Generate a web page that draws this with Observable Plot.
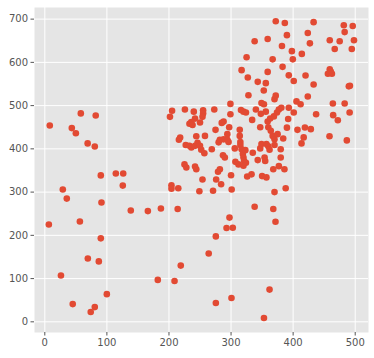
<!DOCTYPE html>
<html>
<head>
<meta charset="utf-8">
<script src="https://cdn.jsdelivr.net/npm/d3@7"></script>
<script src="https://cdn.jsdelivr.net/npm/@observablehq/plot@0.6"></script>
<style>
  html, body { margin: 0; padding: 0; background: #ffffff; }
  #chart svg { display: block; }
</style>
</head>
<body>
<div id="chart"></div>
<script>
const xTicks = [0, 100, 200, 300, 400, 500];
const yTicks = [0, 100, 200, 300, 400, 500, 600, 700];

const xs = [
  8, 6.5, 26, 29, 35.4, 43.5, 50, 45, 56.5, 58, 69, 69.3, 74, 80.5, 82, 80.5, 87, 90.2, 90.2, 91.3,
  99.9, 114.4, 126.3, 125.6, 138.5, 166, 182, 187,
  209, 219, 264, 275.5, 292.7, 302.8, 297.5, 275.5, 300.7, 362, 353, 371.6,
  299, 328, 370, 372, 349, 353, 205, 201.6, 225.7, 240, 242, 236, 233, 238, 250, 255, 255, 254, 273, 299,
  288, 285, 297, 275, 316, 320, 324, 340, 348, 356, 334, 314, 314, 315, 347, 359, 363, 369, 374, 377,
  381, 393, 392, 407, 390, 360, 364, 367, 370, 375, 384, 401, 405.4,
  218, 216, 227, 233, 236, 242, 244, 246, 250, 252, 258, 257, 269, 280, 282, 288, 294, 294, 296, 287,
  290, 306, 307, 312, 315, 317, 319, 320, 321, 323, 324, 320, 335, 347, 349, 357, 360, 362, 354, 355,
  343, 370, 380, 380, 377, 368, 386, 225, 228, 242, 244, 282, 279, 254, 276, 284, 300, 326, 333, 350,
  357, 204, 204, 215, 249, 271, 301, 370, 388, 338, 368, 214,
  437, 464.5, 491, 472, 458.6, 486.5, 419, 428.5, 417, 413.5, 412, 464, 483,
  372, 386.6, 433, 481.6, 496, 483, 423.6, 390, 338, 359, 427, 459, 475, 498, 382, 467, 494.5, 398, 414, 367,
  399.5, 383, 359, 459, 460.6, 456, 462.5, 420, 393, 401, 343, 356, 433, 489.7, 491.5, 352.7, 423.6, 325, 317, 327
];
const ys = [
  454, 225, 107, 306, 285, 448, 436, 41, 232, 482, 412.6, 146.6, 22.6, 405.6, 477, 34, 139.7, 338.6, 193, 276,
  64, 343, 343, 315, 257.6, 256, 97, 262,
  94.5, 130, 158, 197.5, 216.8, 217.7, 241, 43.6, 55, 74.5, 9, 231.5,
  504, 524, 515, 523, 506, 503, 488, 474, 491, 486, 470, 462, 458, 455, 461, 489, 482, 474, 491, 480,
  463, 460, 450, 444, 490, 486, 484, 491, 481, 486, 467, 444, 430, 416, 450, 463, 470, 475, 484, 491,
  495, 495, 469, 444, 449, 450, 442, 430, 422, 434, 424, 484, 509.7,
  426, 421, 409, 407, 403, 407, 429, 414, 407, 398, 430, 390, 399, 415, 421, 422, 434, 421, 416, 385,
  380, 401, 370, 364, 409, 399, 388, 380, 372, 397, 368, 361, 391, 401, 411, 411, 406, 398, 380, 372,
  374, 409, 399, 380, 360, 353, 353, 364, 357, 359, 353, 353, 347, 329, 329, 318, 339, 336, 341, 337,
  334, 316, 308, 309, 302, 303, 306, 300, 309, 266, 261, 261,
  480, 478, 484, 466, 429, 419.5, 449.5, 445.6, 426.5, 412.6, 503, 505, 505,
  695, 691, 693, 686, 684, 670, 668, 663, 649, 654, 644, 651, 649, 651, 638, 631, 631, 626, 619.6, 607,
  607, 589.6, 578, 584, 579, 573.6, 573.6, 569.8, 570, 557, 555, 552, 549, 544.6, 546, 535, 521, 612, 582, 565
];

const points = xs.map((x, i) => ({x, y: ys[i]}));

const chart = Plot.plot({
  width: 374,
  height: 358,
  marginLeft: 34,
  marginRight: 6,
  marginTop: 7,
  marginBottom: 26,
  style: {
    fontFamily: "'DejaVu Sans', sans-serif",
    fontSize: "10px",
    background: "#ffffff",
    color: "#555555"
  },
  x: { domain: [-16.6, 521.4] },
  y: { domain: [-24.7, 726.9] },
  marks: [
    Plot.frame({ fill: "#E5E5E5", stroke: null }),
    Plot.gridX(xTicks, { stroke: "#ffffff", strokeOpacity: 1, strokeWidth: 1 }),
    Plot.gridY(yTicks, { stroke: "#ffffff", strokeOpacity: 1, strokeWidth: 1 }),
    Plot.axisX(xTicks, { tickSize: 3.5, tickPadding: 3, stroke: "#555555", fill: "#555555", label: null }),
    Plot.axisY(yTicks, { tickSize: 3.5, tickPadding: 3, stroke: "#555555", fill: "#555555", label: null }),
    Plot.dot(points, { x: "x", y: "y", r: 3.3, fill: "#E24A33", stroke: null })
  ]
});

document.getElementById("chart").appendChild(chart);
</script>
</body>
</html>
